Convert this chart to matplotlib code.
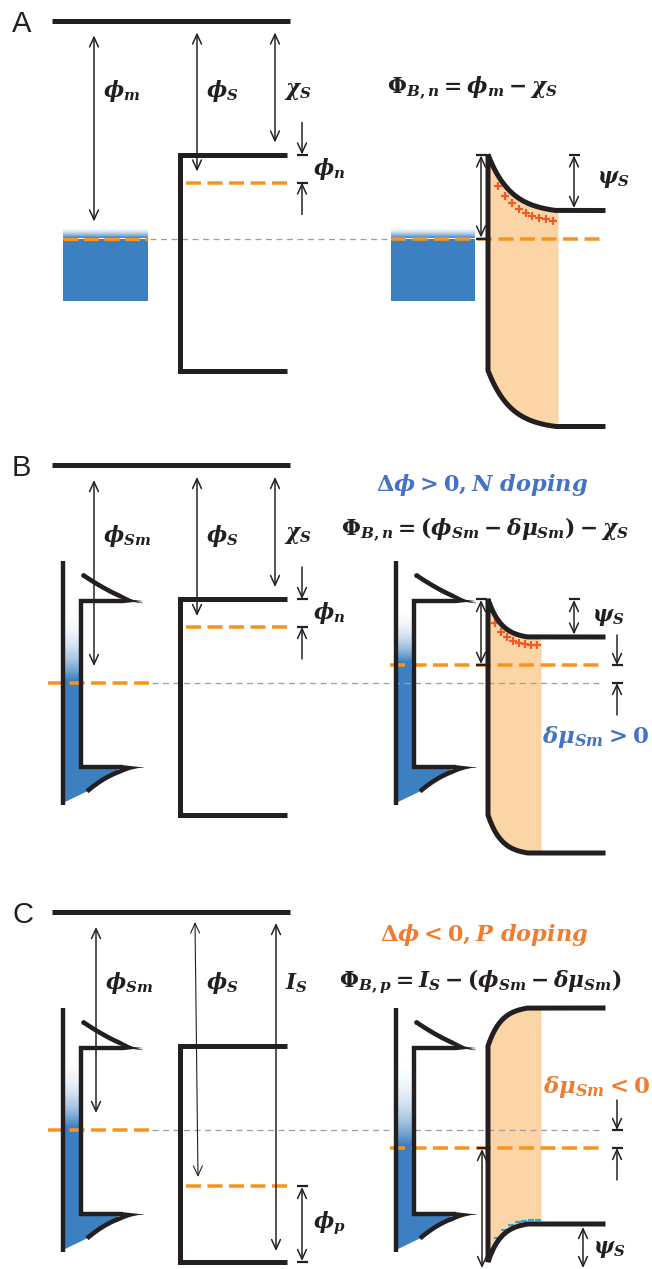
import numpy as np
import matplotlib
matplotlib.use("Agg")
import matplotlib.pyplot as plt
from matplotlib.patches import FancyArrowPatch, Polygon, ArrowStyle
from matplotlib.colors import to_rgb

plt.rcParams.update({
    "mathtext.fontset": "custom",
    "mathtext.rm": "DejaVu Serif:bold",
    "mathtext.it": "DejaVu Serif:italic:bold",
    "mathtext.bf": "DejaVu Serif:bold",
    "lines.scale_dashes": False,
})

# ---------------- energies (eV below the vacuum level) ----------------
PANELS = ["A", "B", "C"]
phi_contact = [5.45, 5.45, 5.45]     # work function of metal / semimetal
delta_mu = [0.0, 0.45, -0.45]        # Fermi-level shift of the semimetal
phi_semi = [4.05, 4.05, 6.85]        # work function of the semiconductor
chi_semi = 3.35                      # electron affinity
gap_semi = 5.4                       # band gap
sm_band_edges = [3.4, 7.56]          # semimetal band edges
sm_dos_span = [2.4, 8.5]             # extent of the semimetal DOS axis
metal_bottom = 7.0                   # bottom of the drawn metal block
n_charges = [9, 8, 7]                # interface charges drawn

contact_labels = [r"$\phi_m$", r"$\phi_{Sm}$", r"$\phi_{Sm}$"]
semi_labels = [r"$\phi_S$", r"$\phi_S$", r"$\phi_S$"]
edge_labels = [r"$\chi_S$", r"$\chi_S$", r"$I_S$"]
offset_labels = [r"$\phi_n$", r"$\phi_n$", r"$\phi_p$"]
titles = [None, r"$\Delta\phi > 0, N\ doping$", r"$\Delta\phi < 0, P\ doping$"]
formulas = [r"$\Phi_{B,n} = \phi_m - \chi_S$",
            r"$\Phi_{B,n} = (\phi_{Sm} - \delta\mu_{Sm}) - \chi_S$",
            r"$\Phi_{B,p} = I_S - (\phi_{Sm} - \delta\mu_{Sm})$"]
dmu_labels = [None, r"$\delta\mu_{Sm} > 0$", r"$\delta\mu_{Sm} < 0$"]

# ---------------- layout (pixels) ----------------
PX = 40.0                            # pixels per eV
VAC_Y = [20.5, 465.0, 912.0]
VAC_X = (52, 290)
ARROW_X = [(94, 197, 275), (94, 197, 275), (96, 197, 276)]
BOX_X = (180, 287)
WALL_X = 488
BAND_END = 603
FILL_END = [558, 541, 541]
DEPL_W = [68, 40, 40]
CHARGE_X = [(498, 553), (495, 537), (497, 538)]
CHARGE_OFF = [10.5, 8.0, -4.0]
TITLE_C = [None, (482, 485), (484, 935)]
FORMULA_C = [(472, 88), (485, 530), (480, 982)]
PSI_POS = [(597, 179), (592, 617), (593, 1249)]
DMU_POS = [None, (649, 737), (650, 1087)]

INK = "#231f20"
FERMI = "#f7941d"
BLUE = "#3d80c1"
DEPL = "#fcd5a7"
PLUS_RED = "#f15a24"
HOLE_BLUE = "#29a9e1"
REF_GRAY = "#a0a0a0"
N_BLUE = "#4472c4"
P_ORANGE = "#ee7d31"


def pt(v):
    """pixels -> points at 100 dpi"""
    return v * 0.72


fig = plt.figure(figsize=(6.52, 12.69), dpi=100)
ax = fig.add_axes([0, 0, 1, 1])


def hline(x0, x1, y, lw=5.0, color=INK, z=5):
    ax.plot([x0, x1], [y, y], color=color, lw=pt(lw), solid_capstyle="butt", zorder=z)


def dashed(x0, x1, y, color, lw, dash, gap, z=4):
    ax.plot([x0, x1], [y, y], color=color, lw=pt(lw), dashes=(pt(dash), pt(gap)),
            dash_capstyle="butt", zorder=z)


def arrow(x, y0, y1, style="<->", x1=None, lw=1.5):
    x1 = x if x1 is None else x1
    a = FancyArrowPatch((x, y0), (x1, y1),
                        arrowstyle=ArrowStyle(style, head_length=7.0, head_width=3.2),
                        mutation_scale=1, shrinkA=0, shrinkB=0, lw=pt(lw),
                        color=INK, zorder=7)
    ax.add_patch(a)


def bar(x, y, half=5.5):
    hline(x - half, x + half, y, lw=2.2, z=7)


def fade(x0, x1, y0, y1, color, power=2.6, z=1):
    n = 256
    t = np.linspace(0, 1, n) ** power
    rgba = np.zeros((n, 1, 4))
    rgba[..., :3] = to_rgb(color)
    rgba[:, 0, 3] = t
    ax.imshow(rgba, extent=(x0, x1, y1, y0), origin="upper", aspect="auto",
              interpolation="bilinear", zorder=z)


def thick_curve(xs, ys, widths, z=5):
    dx = np.gradient(xs)
    dy = np.gradient(ys)
    nrm = np.hypot(dx, dy)
    nx, ny = -dy / nrm, dx / nrm
    left = np.column_stack([xs + nx * widths / 2, ys + ny * widths / 2])
    right = np.column_stack([xs - nx * widths / 2, ys - ny * widths / 2])
    ax.add_patch(Polygon(np.vstack([left, right[::-1]]), closed=True,
                         fc=INK, ec="none", zorder=z))
    ax.plot(xs[0], ys[0], "o", ms=pt(widths[0]), color=INK, zorder=z, mec="none")


def semimetal(x0, vac, ef):
    ytop = vac + sm_band_edges[0] * PX
    ybot = vac + sm_band_edges[1] * PX
    yo1 = vac + sm_dos_span[0] * PX
    yo2 = vac + sm_dos_span[1] * PX
    xin, xtip = x0 + 18, x0 + 80

    xs_t = np.linspace(x0 + 20, xtip, 80)
    ys_t = ytop + 2 - 28 * ((xtip - xs_t) / 60) ** 1.45
    xs_b = np.linspace(x0 + 24, xtip, 80)
    ys_b = ybot + 24 * ((xtip - xs_b) / 56) ** 2.0

    # occupied states
    fade(x0, xin, ytop, ef - 3, BLUE)
    m = xs_b <= x0 + 55
    poly = ([(x0, ef - 3.2), (xin, ef - 3.2), (xin, ybot), (x0 + 55, ybot)]
            + list(zip(xs_b[m][::-1], ys_b[m][::-1])) + [(x0, yo2 - 2)])
    ax.add_patch(Polygon(poly, closed=True, fc=BLUE, ec="none", zorder=1))

    # outlines
    ax.plot([x0, x0], [yo1, yo2], lw=pt(4.4), color=INK, solid_capstyle="butt", zorder=5)
    ax.plot([xtip - 20, xin, xin, xtip - 20], [ytop, ytop, ybot, ybot], lw=pt(4.4),
            color=INK, solid_joinstyle="miter", solid_capstyle="butt", zorder=5)
    for y in (ytop, ybot):
        ax.add_patch(Polygon([(xtip - 20, y - 2.2), (xtip, y), (xtip - 20, y + 2.2)],
                             closed=True, fc=INK, ec="none", zorder=5))
    thick_curve(xs_t, ys_t, 4.6 * np.clip((xtip - xs_t) / 24, 0.12, 1))
    thick_curve(xs_b[::-1], ys_b[::-1], 4.6 * np.clip((xtip - xs_b[::-1]) / 24, 0.12, 1))


def junction(p, ef_j):
    cb_bulk = ef_j - (phi_semi[p] - chi_semi) * PX
    cb_int = ef_j - ((phi_contact[p] - delta_mu[p]) - chi_semi) * PX
    wd = DEPL_W[p]
    lam = wd / 3.0

    def cb_at(xr):
        xr = np.clip(xr, 0, wd)
        g = (np.exp(-xr / lam) - np.exp(-wd / lam)) / (1 - np.exp(-wd / lam))
        return cb_bulk + (cb_int - cb_bulk) * g

    xf = np.linspace(0, FILL_END[p] - WALL_X, 300)
    cbf = cb_at(xf)
    ax.fill_between(WALL_X + xf, cbf, cbf + gap_semi * PX, color=DEPL, lw=0, zorder=1)

    xr = np.linspace(0, wd, 200)
    cb = cb_at(xr)
    vb = cb + gap_semi * PX
    xs = np.concatenate([[BAND_END], WALL_X + xr[::-1], WALL_X + xr, [BAND_END]])
    ys = np.concatenate([[cb_bulk], cb[::-1], vb, [vb[-1]]])
    ax.plot(xs, ys, color=INK, lw=pt(5), solid_joinstyle="miter", zorder=5)

    # interface charges
    cx = np.linspace(CHARGE_X[p][0], CHARGE_X[p][1], n_charges[p])
    if phi_semi[p] - chi_semi < gap_semi / 2:
        ax.plot(cx, cb_at(cx - WALL_X) + CHARGE_OFF[p], "+", ms=pt(7.5), mew=pt(2.2),
                color=PLUS_RED, zorder=4)
    else:
        ax.plot(cx, cb_at(cx - WALL_X) + gap_semi * PX + CHARGE_OFF[p], "_",
                ms=pt(6.5), mew=pt(2.2), color=HOLE_BLUE, zorder=4)
    return cb_bulk, cb_int


label_kw = dict(fontsize=15.5, color=INK, va="center", ha="left", zorder=8)

for p, name in enumerate(PANELS):
    vac = VAC_Y[p]
    ef_ref = vac + phi_contact[p] * PX          # isolated contact Fermi level
    ef_j = ef_ref - delta_mu[p] * PX            # contact Fermi level in the junction
    cb = vac + chi_semi * PX
    vb = cb + gap_semi * PX
    ef_s = vac + phi_semi[p] * PX

    ax.text(12, vac + 3, name, fontsize=21, family="Liberation Sans", color=INK,
            va="center", ha="left")
    hline(VAC_X[0], VAC_X[1], vac, lw=5)

    # ---------- isolated materials ----------
    xa, xb, xc = ARROW_X[p]
    arrow(xa, vac + 15, ef_ref - 17)
    if p == 2:
        arrow(xb - 2, vac + 10, ef_s - 9, x1=xb + 1, lw=1.1)
        arrow(xc, vac + 11, vb - 11)
    else:
        arrow(xb, vac + 12, ef_s - 11)
        arrow(xc, vac + 12, cb - 12)
    ax.text(xa + 9, vac + 71, contact_labels[p], **label_kw)
    ax.text(xb + 9, vac + 71, semi_labels[p], **label_kw)
    ax.text(xc + 9, vac + 71, edge_labels[p], **label_kw)

    ax.plot([BOX_X[1], BOX_X[0], BOX_X[0], BOX_X[1]], [cb, cb, vb, vb], color=INK,
            lw=pt(5), solid_joinstyle="miter", solid_capstyle="butt", zorder=5)
    dashed(BOX_X[0] + 6, BOX_X[1], ef_s, FERMI, 3.5, 15, 6.5)

    if p < 2:
        bar(302, cb)
        bar(302, ef_s)
        arrow(302, cb - 32, cb, style="->")
        arrow(302, ef_s + 32, ef_s, style="->")
        ax.text(313, (cb + ef_s) / 2, offset_labels[p], **label_kw)
    else:
        bar(302, ef_s)
        bar(302, vb)
        arrow(302, ef_s + 1, vb - 1)
        ax.text(313, (vb + ef_s) / 2 - 1, offset_labels[p], **label_kw)

    if p == 0:
        fade(63, 148, ef_ref - 10, ef_ref, BLUE, power=1.5)
        ax.add_patch(plt.Rectangle((63, ef_ref), 85, vac + metal_bottom * PX - ef_ref,
                                   fc=BLUE, ec="none", zorder=1))
        dashed(63, 148, ef_ref, FERMI, 3.2, 15, 5.5)
        dashed(150, 391, ef_ref, REF_GRAY, 1.3, 6, 4.5, z=2)
    else:
        semimetal(63, vac, ef_ref)
        dashed(48, 152, ef_ref, FERMI, 3.5, 15, 6.5)
        dashed(152, BAND_END, ef_ref, REF_GRAY, 1.3, 6, 4.5, z=2)

    # ---------- contact ----------
    if p == 0:
        fade(391, 475, ef_j - 10, ef_j, BLUE, power=1.5)
        ax.add_patch(plt.Rectangle((391, ef_j), 84, vac + metal_bottom * PX - ef_j,
                                   fc=BLUE, ec="none", zorder=1))
        dashed(391, BAND_END, ef_j, FERMI, 3.5, 15, 6.5)
    else:
        semimetal(396, vac, ef_j)
        dashed(390, BAND_END, ef_j, FERMI, 3.5, 15, 6.5)

    cb_bulk, cb_int = junction(p, ef_j)
    vb_bulk = cb_bulk + gap_semi * PX
    vb_int = cb_int + gap_semi * PX

    if p < 2:
        bar(481, cb_int)
        bar(481, ef_j)
        arrow(481, cb_int + 1, ef_j - 1)
        bar(574, cb_int)
        arrow(574, cb_int + 1, cb_bulk - 2.5)
    else:
        bar(482, ef_j)
        arrow(482, ef_j + 1, vb_int + 6)
        arrow(583, vb_bulk + 3, vb_int + 6)
    ax.text(PSI_POS[p][0], PSI_POS[p][1], r"$\psi_S$", **label_kw)

    if p > 0:
        hi, lo = min(ef_j, ef_ref), max(ef_j, ef_ref)
        bar(617, hi)
        bar(617, lo)
        arrow(617, hi - 30, hi, style="->")
        arrow(617, lo + 32, lo, style="->")
        col = N_BLUE if delta_mu[p] > 0 else P_ORANGE
        ax.text(TITLE_C[p][0], TITLE_C[p][1], titles[p], fontsize=16.2, color=col,
                ha="center", va="center")
        ax.text(DMU_POS[p][0], DMU_POS[p][1], dmu_labels[p], fontsize=16.5, color=col,
                ha="right", va="center")
    ax.text(FORMULA_C[p][0], FORMULA_C[p][1], formulas[p], fontsize=15.7, color=INK,
            ha="center", va="center")

ax.set_xlim(0, 652)
ax.set_ylim(1269, 0)
ax.axis("off")
fig.savefig("out.png", dpi=100)
